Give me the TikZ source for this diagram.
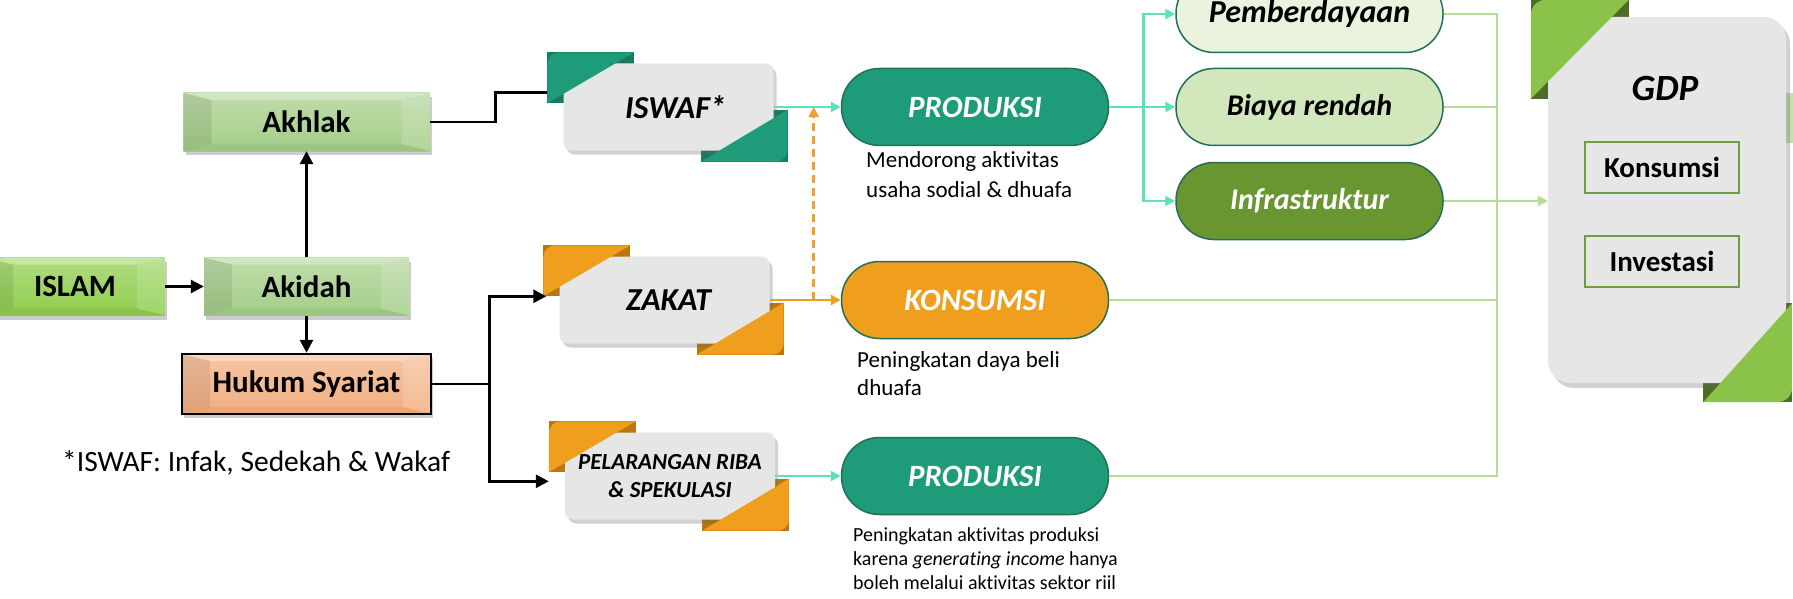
\documentclass[tikz,border=0pt]{standalone}
\usepackage{fontspec}
\setmainfont{Carlito}[Ligatures=NoCommon]
\usetikzlibrary{arrows.meta,calc,shadows}
\pgfdeclarelayer{back}
\pgfsetlayers{back,main}

\definecolor{tealA}{HTML}{1E9B78}
\definecolor{tealD}{HTML}{187A5F}
\definecolor{orgA}{HTML}{F09E1E}
\definecolor{orgD}{HTML}{B8780F}
\definecolor{gdpA}{HTML}{8BC34A}
\definecolor{gdpD}{HTML}{4E6B27}
\definecolor{boxgrey}{HTML}{E6E6E6}
\definecolor{pillline}{HTML}{226F58}
\definecolor{aqua}{HTML}{5FE0BC}
\definecolor{lgreen}{HTML}{B7DC95}
\definecolor{pemb}{HTML}{E9F3DD}
\definecolor{biay}{HTML}{D3E7BC}
\definecolor{infr}{HTML}{6A9632}
\definecolor{akh}{HTML}{A4CE88}
\definecolor{isl}{HTML}{8FCD4C}
\definecolor{huk}{HTML}{F2AE80}
\definecolor{gdpline}{HTML}{6F9E3F}
\definecolor{dashorg}{HTML}{F0A030}

% Folded ribbon corners on a grey card:
% #1 card, #2 light colour, #3 dark colour,
% #4/#5 top-left tab corners (from north west), #6/#7 bottom-right tab corners (from south east), #8 radius
\newcommand\ribbontabs[8]{%
  \coordinate (#1-a) at ($(#1.north west)+(#4)$);
  \coordinate (#1-b) at ($(#1.north west)+(#5)$);
  \coordinate (#1-c) at ($(#1.south east)+(#6)$);
  \coordinate (#1-d) at ($(#1.south east)+(#7)$);
  \begin{pgfonlayer}{back}
    \fill[#3] (#1-a) rectangle (#1-b);
    \fill[#3] (#1-c) rectangle (#1-d);
  \end{pgfonlayer}
  \begin{scope}
    \clip (#1-a |- #1-b) -- (#1-a) -- (#1-b |- #1-a) -- cycle;
    \fill[#2, rounded corners=#8] (#1-a) rectangle ($(#1-b)+(40,40)$);
  \end{scope}
  \begin{scope}
    \clip (#1-c |- #1-d) -- (#1-d |- #1-c) -- (#1-d) -- cycle;
    \fill[#2, rounded corners=#8] ($(#1-c)+(-40,-40)$) rectangle (#1-d);
  \end{scope}
}

\begin{document}
\begin{tikzpicture}[x=1pt,y=-1pt,
  bevel/.style={inner sep=0pt, font=\bfseries\fontsize{31}{37}\selectfont,
    top color=#1!70!white, bottom color=#1,
    drop shadow={shadow xshift=2pt, shadow yshift=-4pt, opacity=.2, fill=black},
    path picture={
      \fill[black,opacity=.08] (path picture bounding box.north west)
        -- ([xshift=28pt,yshift=-7pt]path picture bounding box.north west)
        -- ([xshift=28pt,yshift=7pt]path picture bounding box.south west)
        -- (path picture bounding box.south west) -- cycle;
      \fill[white,opacity=.15] (path picture bounding box.north east)
        -- ([xshift=-28pt,yshift=-7pt]path picture bounding box.north east)
        -- ([xshift=-28pt,yshift=7pt]path picture bounding box.south east)
        -- (path picture bounding box.south east) -- cycle;
      \fill[white,opacity=.3] (path picture bounding box.north west)
        -- (path picture bounding box.north east)
        -- ([xshift=-28pt,yshift=-7pt]path picture bounding box.north east)
        -- ([xshift=28pt,yshift=-7pt]path picture bounding box.north west) -- cycle;
      \fill[black,opacity=.05] (path picture bounding box.south west)
        -- (path picture bounding box.south east)
        -- ([xshift=-28pt,yshift=7pt]path picture bounding box.south east)
        -- ([xshift=28pt,yshift=7pt]path picture bounding box.south west) -- cycle;
    }},
  card/.style={fill=boxgrey, rounded corners=8, minimum width=210, minimum height=87,
    inner sep=0pt, align=center, font=\bfseries\itshape\fontsize{32}{38}\selectfont,
    drop shadow={shadow xshift=3pt, shadow yshift=-4pt, opacity=.3, fill=black!60}},
  pill/.style={rounded corners=38, minimum width=267, minimum height=77, inner sep=0pt,
    draw=pillline, line width=1.5, font=\bfseries\itshape\fontsize{31}{37}\selectfont},
  desc/.style={anchor=west, align=left, inner sep=0pt},
  gdpitem/.style={draw=gdpline, line width=2, fill=boxgrey, minimum width=154,
    minimum height=51, inner sep=0pt, font=\bfseries\fontsize{29}{34}\selectfont},
  blkline/.style={line width=2.8, draw=black},
  blkarr/.style={blkline, -{Triangle[length=13pt,width=13pt]}},
  aq/.style={line width=2.8, draw=aqua},
  aqarr/.style={aq, -{Triangle[length=10pt,width=10pt]}},
  org/.style={line width=2.6, draw=orgA, -{Triangle[length=10pt,width=10pt]}},
  grn/.style={line width=2.8, draw=lgreen},
]
\useasboundingbox (0,0) rectangle (1793,599);

% ---- left column: bevelled boxes ----
\node[bevel=isl, minimum width=180, minimum height=58] (islam) at (75,286.5) {ISLAM};
\node[bevel=akh, minimum width=205, minimum height=58] (akidah) at (306.5,286.5) {Akidah};
\node[bevel=akh, minimum width=246, minimum height=58] (akhlak) at (306.5,122) {Akhlak};
\node[bevel=huk, draw=black, line width=2.5, minimum width=249, minimum height=60] (hukum) at (306.5,384) {Hukum Syariat};
\node[desc, font=\fontsize{29.5}{34}\selectfont] (note) at (62,463) {*ISWAF: Infak, Sedekah \& Wakaf};

% ---- instrument cards ----
\node[card] (iswaf) at (668.5,107) {\hspace*{14pt}ISWAF*};
\node[card] (zakat) at (664.5,300) {\hspace*{8pt}ZAKAT};
\node[card, font=\bfseries\itshape\fontsize{23}{28}\selectfont] (pel) at (670,476) {PELARANGAN RIBA\\\& SPEKULASI};
\ribbontabs{iswaf}{tealA}{tealD}{-16,-11}{71,40}{-73,-41}{14,11}{12}
\ribbontabs{zakat}{orgA}{orgD}{-16,-11}{71,40}{-73,-41}{14,11}{12}
\ribbontabs{pel}{orgA}{orgD}{-16,-11}{71,40}{-73,-41}{14,11}{12}

% ---- effects ----
\node[pill, fill=tealA, text=white] (prodA) at (975,107) {PRODUKSI};
\node[pill, fill=orgA, text=white] (konsA) at (975,300) {KONSUMSI};
\node[pill, fill=tealA, text=white] (prodB) at (975,476) {PRODUKSI};
\node[desc, font=\fontsize{23}{30}\selectfont] (dA) at (866,175) {Mendorong aktivitas\\usaha sodial \& dhuafa};
\node[desc, font=\fontsize{23}{28}\selectfont] (dB) at (857,374) {Peningkatan daya beli\\dhuafa};
\node[desc, font=\fontsize{20}{24}\selectfont] (dC) at (853,559) {Peningkatan aktivitas produksi\\karena \textit{generating income} hanya\\boleh melalui aktivitas sektor riil};

% ---- production channels ----
\node[pill, fill=pemb, font=\bfseries\itshape\fontsize{32}{38}\selectfont] (pember) at (1309.5,14) {Pemberdayaan};
\node[pill, fill=biay, font=\bfseries\itshape\fontsize{30}{36}\selectfont] (biaya) at (1309.5,107) {Biaya rendah};
\node[pill, fill=infr, text=white, font=\bfseries\itshape\fontsize{30}{36}\selectfont] (infra) at (1309.5,201) {Infrastruktur};

% ---- GDP card ----
\begin{pgfonlayer}{back}
  \fill[lgreen!70!boxgrey] (1780,93) rectangle (1793,143);
\end{pgfonlayer}
\node[fill=boxgrey, rounded corners=22, minimum width=238, minimum height=366, inner sep=0pt,
  drop shadow={shadow xshift=4pt, shadow yshift=-5pt, opacity=.3, fill=black!60}] (gdp) at (1667,200) {};
\ribbontabs{gdp}{gdpA}{gdpD}{-17,-17}{81,82}{-83,-80}{6,19}{15}
\node[inner sep=0pt, font=\bfseries\itshape\fontsize{37}{44}\selectfont] (gdpT) at (1665,88) {GDP};
\node[gdpitem] (gK) at (1662,167.5) {Konsumsi};
\node[gdpitem] (gI) at (1662,261.5) {Investasi};

% ---- black connectors ----
\draw[blkarr] (islam.east) -- (akidah.west);
\draw[blkarr] (akidah.north) -- (akhlak.south);
\draw[blkarr] (akidah.south) -- (hukum.north);
\draw[blkline] (akhlak.east) -- ++(66,0) |- ($(iswaf-a)+(0,40)$);
\draw[blkline] (hukum.east) -- ++(57,0) coordinate (split);
\draw[blkarr] (split) |- ($(zakat-a)+(3,51)$);
\draw[blkarr] (split) |- ($(pel-a)+(0,60)$);

% ---- coloured connectors ----
\draw[aqarr] (iswaf.east) -- (prodA.west);
\draw[aq] (prodA.east) -- ++(34,0) coordinate (fork);
\draw[aqarr] (fork) |- (pember.west);
\draw[aqarr] (fork) -- (biaya.west);
\draw[aqarr] (fork) |- (infra.west);
\draw[aqarr] (pel.east) -- (prodB.west);
\draw[org] (zakat.east) -- (konsA.west);
\draw[org, draw=dashorg, dash pattern=on 8pt off 5pt] ([xshift=44pt]zakat.east) -- ([xshift=44pt]zakat.east |- iswaf.east);

\coordinate (bus) at (1497,201);
\draw[grn] (pember.east) -| (bus);
\draw[grn] (biaya.east) -- (biaya.east -| bus);
\draw[grn] (konsA.east) -| (bus);
\draw[grn] (prodB.east) -| (bus);
\draw[grn, -{Triangle[length=10pt,width=10pt]}] (infra.east) -- (infra.east -| gdp.west);
\end{tikzpicture}
\end{document}
